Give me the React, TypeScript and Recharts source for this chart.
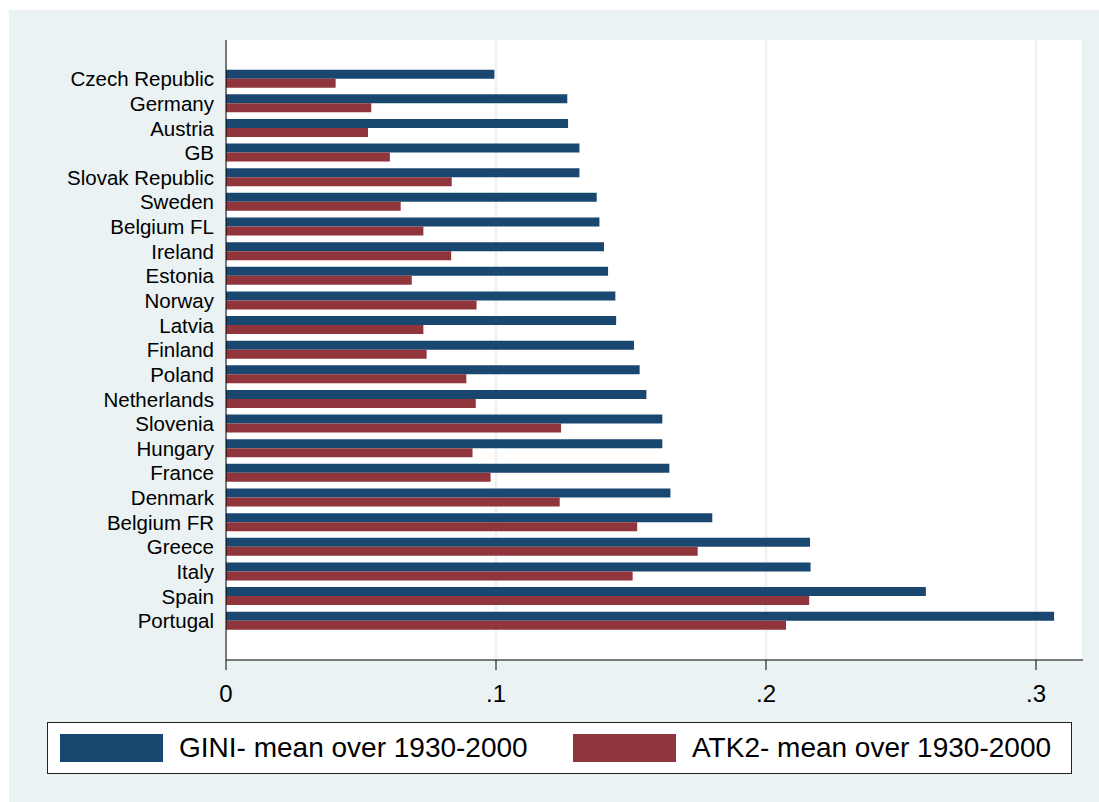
import React from "react";
import { BarChart, Bar, XAxis, YAxis, CartesianGrid } from "recharts";

const countries = [
  "Czech Republic", "Germany", "Austria", "GB", "Slovak Republic", "Sweden",
  "Belgium FL", "Ireland", "Estonia", "Norway", "Latvia", "Finland", "Poland",
  "Netherlands", "Slovenia", "Hungary", "France", "Denmark", "Belgium FR",
  "Greece", "Italy", "Spain", "Portugal",
];

const giniValues = [
  0.0994, 0.1264, 0.1267, 0.1309, 0.1309, 0.1373,
  0.1383, 0.1400, 0.1415, 0.1442, 0.1445, 0.1511, 0.1532,
  0.1557, 0.1616, 0.1616, 0.1642, 0.1646, 0.1801,
  0.2163, 0.2165, 0.2592, 0.3067,
];

const atk2Values = [
  0.0406, 0.0538, 0.0526, 0.0607, 0.0836, 0.0647,
  0.0731, 0.0834, 0.0688, 0.0928, 0.0731, 0.0743, 0.0890,
  0.0925, 0.1241, 0.0913, 0.0980, 0.1236, 0.1523,
  0.1747, 0.1506, 0.2160, 0.2074,
];

const xTicks = [0, 0.1, 0.2, 0.3];
const xTickLabels = ["0", ".1", ".2", ".3"];
const seriesNames = ["GINI- mean over 1930-2000", "ATK2- mean over 1930-2000"];
const seriesColors = ["#1A476F", "#90353B"];

const data = countries.map((c, i) => ({
  country: c,
  gini: giniValues[i],
  atk2: atk2Values[i],
}));

const FONT = '"Liberation Sans", Arial, Helvetica, sans-serif';

export default function App() {
  const legendOffsets = [12, 525];
  return (
    <div
      style={{
        position: "absolute",
        left: 0,
        top: 0,
        width: 1099,
        height: 802,
        background: "#ffffff",
        fontFamily: FONT,
        overflow: "hidden",
      }}
    >
      <div
        style={{
          position: "absolute",
          left: 9,
          top: 10,
          width: 1090,
          height: 792,
          background: "#EAF2F3",
        }}
      />
      <div style={{ position: "absolute", left: 0, top: 0 }}>
        <BarChart
          width={1099}
          height={802}
          data={data}
          layout="vertical"
          barGap={0}
          margin={{ top: 40, right: 16, left: 0, bottom: 102 }}
          style={{ fontFamily: FONT }}
        >
          <CartesianGrid
            horizontal={false}
            vertical={true}
            stroke="#EAF2F3"
            strokeWidth={2.5}
            fill="#ffffff"
          />
          <XAxis
            type="number"
            domain={[0, 0.3174]}
            ticks={xTicks}
            tickFormatter={(v: number) => {
              const idx = xTicks.findIndex((t) => Math.abs(t - v) < 1e-9);
              return idx >= 0 ? xTickLabels[idx] : String(v);
            }}
            height={40}
            tickSize={10}
            tickMargin={15}
            axisLine={{ stroke: "#000000", strokeWidth: 1 }}
            tickLine={{ stroke: "#000000", strokeWidth: 1 }}
            tick={{ fill: "#000000", fontSize: 24, fontFamily: FONT }}
          />
          <YAxis
            type="category"
            dataKey="country"
            width={226}
            interval={0}
            tickSize={0}
            tickMargin={12}
            tickLine={false}
            axisLine={{ stroke: "#000000", strokeWidth: 1 }}
            padding={{ top: 26.7, bottom: 26.7 }}
            tick={{ fill: "#000000", fontSize: 20.5, fontFamily: FONT }}
          />
          <Bar
            dataKey="gini"
            name={seriesNames[0]}
            fill={seriesColors[0]}
            barSize={9}
            isAnimationActive={false}
          />
          <Bar
            dataKey="atk2"
            name={seriesNames[1]}
            fill={seriesColors[1]}
            barSize={9}
            isAnimationActive={false}
          />
        </BarChart>
      </div>
      <div
        style={{
          position: "absolute",
          left: 47,
          top: 722,
          width: 1025,
          height: 52,
          background: "#ffffff",
          border: "1px solid #222222",
          boxSizing: "border-box",
        }}
      >
        {seriesNames.map((name, i) => (
          <div
            key={name}
            style={{
              position: "absolute",
              left: legendOffsets[i],
              top: 0,
              height: 50,
              display: "flex",
              alignItems: "center",
            }}
          >
            <div
              style={{
                width: 103,
                height: 28,
                background: seriesColors[i],
                marginRight: 16,
              }}
            />
            <span
              style={{
                fontSize: 28,
                color: "#000000",
                fontFamily: FONT,
                whiteSpace: "nowrap",
                lineHeight: "28px",
              }}
            >
              {name}
            </span>
          </div>
        ))}
      </div>
    </div>
  );
}
